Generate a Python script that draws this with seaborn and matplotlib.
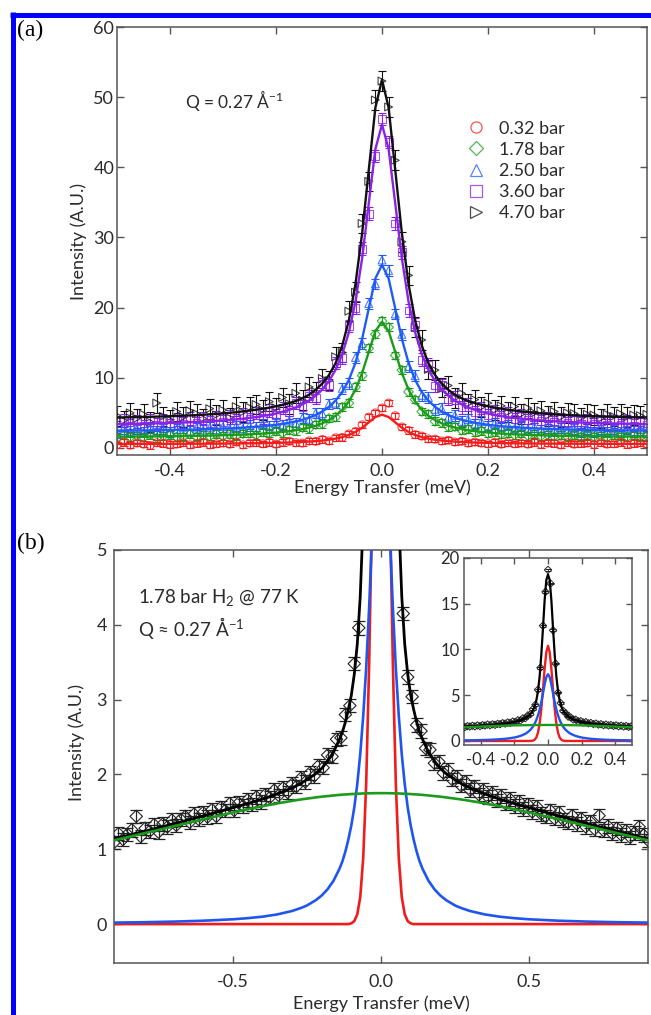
import numpy as np
import matplotlib
matplotlib.use("Agg")
import matplotlib.pyplot as plt
from matplotlib.lines import Line2D
from matplotlib.ticker import FormatStrFormatter
import seaborn as sns

# ---------------- panel (a): H2 QENS spectra at Q = 0.27 1/A ----------------
energy_a = np.linspace(-0.5, 0.5, 81)          # meV, 0.0125 meV bins

pressures = ["0.32 bar", "1.78 bar", "2.50 bar", "3.60 bar", "4.70 bar"]
colors = ["#f41c1c", "#1a9c1a", "#1f5cf5", "#8a22e6", "#111111"]
markers = ["o", "D", "^", "s", ">"]
err_a = [0.45, 0.55, 0.75, 0.9, 1.4]

obs_032 = [0.45, 0.80, 0.40, 0.70, 0.55, 0.35, 0.75, 0.65, 0.50, 0.55, 0.75, 0.45, 0.65, 0.80, 0.45, 0.60,
           0.70, 0.55, 0.85, 0.45, 0.70, 0.75, 0.60, 0.80, 0.55, 0.80, 0.95, 0.75, 0.70, 1.00, 0.95, 1.20,
           1.00, 1.45, 1.50, 2.00, 2.35, 3.30, 4.40, 5.00, 5.70, 6.40, 4.60, 3.00, 2.50, 1.90, 1.70, 1.30,
           1.25, 1.00, 1.10, 0.85, 0.95, 0.70, 0.85, 0.70, 0.60, 0.80, 0.55, 0.75, 0.60, 0.70, 0.55, 0.80,
           0.50, 0.70, 0.65, 0.45, 0.75, 0.55, 0.65, 0.70, 0.50, 0.75, 0.55, 0.60, 0.80, 0.50, 0.65, 0.75, 0.55]
fit_032 = [0.58, 0.58, 0.58, 0.58, 0.59, 0.59, 0.59, 0.59, 0.60, 0.60, 0.60, 0.61, 0.61, 0.61, 0.62, 0.62,
           0.63, 0.64, 0.65, 0.66, 0.67, 0.68, 0.69, 0.71, 0.73, 0.75, 0.78, 0.81, 0.86, 0.91, 0.98, 1.06,
           1.18, 1.34, 1.55, 1.86, 2.29, 2.89, 3.65, 4.41, 4.75, 4.41, 3.65, 2.89, 2.29, 1.86, 1.55, 1.34,
           1.18, 1.06, 0.98, 0.91, 0.86, 0.81, 0.78, 0.75, 0.73, 0.71, 0.69, 0.68, 0.67, 0.66, 0.65, 0.64,
           0.63, 0.62, 0.62, 0.61, 0.61, 0.61, 0.60, 0.60, 0.60, 0.59, 0.59, 0.59, 0.59, 0.58, 0.58, 0.58, 0.58]

obs_178 = [1.40, 1.85, 1.55, 1.75, 1.50, 1.90, 1.45, 1.70, 1.85, 1.55, 1.60, 1.95, 1.55, 1.80, 1.65, 2.00,
           1.70, 1.95, 1.75, 2.05, 2.15, 1.85, 2.25, 2.10, 2.40, 2.15, 2.55, 2.45, 2.90, 2.75, 3.35, 3.40,
           4.20, 4.40, 5.80, 6.40, 8.70, 10.30, 14.20, 16.20, 18.10, 17.20, 13.20, 11.10, 8.00, 6.90, 5.20,
           4.80, 3.80, 3.60, 3.00, 3.05, 2.55, 2.70, 2.30, 2.45, 2.05, 2.25, 1.95, 2.15, 1.85, 2.05, 1.75,
           2.00, 1.70, 1.90, 1.65, 1.85, 1.60, 1.80, 1.55, 1.85, 1.60, 1.75, 1.50, 1.80, 1.65, 1.55, 1.80, 1.60, 1.70]
fit_178 = [1.62, 1.62, 1.63, 1.64, 1.64, 1.65, 1.66, 1.67, 1.68, 1.69, 1.70, 1.72, 1.73, 1.75, 1.77, 1.79,
           1.82, 1.84, 1.88, 1.91, 1.95, 2.00, 2.06, 2.12, 2.20, 2.29, 2.40, 2.53, 2.70, 2.91, 3.17, 3.52,
           3.98, 4.59, 5.44, 6.63, 8.33, 10.68, 13.68, 16.66, 18.00, 16.66, 13.68, 10.68, 8.33, 6.63, 5.44,
           4.59, 3.98, 3.52, 3.17, 2.91, 2.70, 2.53, 2.40, 2.29, 2.20, 2.12, 2.06, 2.00, 1.95, 1.91, 1.88,
           1.84, 1.82, 1.79, 1.77, 1.75, 1.73, 1.72, 1.70, 1.69, 1.68, 1.67, 1.66, 1.65, 1.64, 1.64, 1.63, 1.62, 1.62]

obs_250 = [2.20, 2.80, 2.35, 2.70, 2.25, 2.90, 2.45, 2.75, 2.30, 2.65, 2.95, 2.40, 2.85, 2.55, 2.95, 2.60,
           3.05, 2.70, 3.15, 2.75, 3.20, 2.90, 3.40, 3.05, 3.55, 3.25, 3.85, 3.50, 4.30, 4.10, 5.00, 4.90,
           6.30, 6.40, 8.50, 9.20, 12.90, 14.90, 20.60, 23.40, 26.80, 25.30, 19.10, 16.20, 11.60, 10.30,
           7.50, 7.20, 5.50, 5.60, 4.40, 4.65, 3.80, 4.05, 3.40, 3.75, 3.10, 3.50, 2.90, 3.30, 2.75, 3.15,
           2.65, 3.05, 2.55, 2.95, 2.50, 2.85, 2.40, 2.80, 2.35, 2.75, 2.30, 2.80, 2.30, 2.70, 2.25, 2.75,
           2.35, 2.65, 2.30]
fit_250 = [2.47, 2.48, 2.49, 2.50, 2.50, 2.52, 2.53, 2.55, 2.56, 2.58, 2.60, 2.61, 2.64, 2.66, 2.69, 2.72,
           2.76, 2.80, 2.84, 2.90, 2.95, 3.02, 3.10, 3.20, 3.30, 3.44, 3.60, 3.79, 4.03, 4.33, 4.71, 5.21,
           5.87, 6.76, 7.98, 9.70, 12.15, 15.54, 19.87, 24.16, 26.10, 24.16, 19.87, 15.54, 12.15, 9.70,
           7.98, 6.76, 5.87, 5.21, 4.71, 4.33, 4.03, 3.79, 3.60, 3.44, 3.30, 3.20, 3.10, 3.02, 2.95, 2.90,
           2.84, 2.80, 2.76, 2.72, 2.69, 2.66, 2.64, 2.61, 2.60, 2.58, 2.56, 2.55, 2.53, 2.52, 2.50, 2.50,
           2.49, 2.48, 2.47]

obs_360 = [3.00, 3.90, 3.20, 3.80, 3.10, 4.00, 3.35, 3.95, 3.30, 4.10, 3.45, 4.20, 3.50, 4.25, 3.60, 4.35,
           3.75, 4.55, 3.95, 4.75, 4.10, 5.00, 4.30, 5.30, 4.70, 5.70, 5.10, 6.40, 5.90, 7.40, 7.10, 9.10,
           9.00, 12.10, 12.80, 17.40, 20.00, 28.40, 33.40, 41.60, 46.90, 43.60, 32.00, 27.90, 19.60, 17.60,
           12.60, 11.90, 8.90, 9.00, 7.00, 7.20, 5.80, 6.20, 5.10, 5.70, 4.70, 5.20, 4.40, 4.90, 4.10, 4.60,
           3.95, 4.40, 3.80, 4.25, 3.65, 4.10, 3.55, 4.00, 3.45, 3.95, 3.40, 3.85, 3.30, 3.80, 3.25, 3.75,
           3.20, 3.70, 3.30]
fit_360 = [3.40, 3.42, 3.44, 3.45, 3.47, 3.49, 3.52, 3.54, 3.57, 3.60, 3.63, 3.67, 3.71, 3.76, 3.81, 3.86,
           3.93, 4.00, 4.08, 4.18, 4.28, 4.40, 4.55, 4.72, 4.91, 5.16, 5.44, 5.79, 6.23, 6.77, 7.46, 8.36,
           9.55, 11.15, 13.36, 16.48, 20.89, 27.03, 34.85, 42.60, 46.10, 42.60, 34.85, 27.03, 20.89, 16.48,
           13.36, 11.15, 9.55, 8.36, 7.46, 6.77, 6.23, 5.79, 5.44, 5.16, 4.91, 4.72, 4.55, 4.40, 4.28, 4.18,
           4.08, 4.00, 3.93, 3.86, 3.81, 3.76, 3.71, 3.67, 3.63, 3.60, 3.57, 3.54, 3.52, 3.49, 3.47, 3.45,
           3.44, 3.42, 3.40]

obs_470 = [4.60, 3.90, 5.00, 4.20, 4.80, 3.70, 6.40, 4.50, 4.00, 5.20, 4.40, 5.30, 4.90, 4.20, 5.60, 4.70,
           5.40, 4.30, 5.90, 5.10, 5.80, 6.20, 5.40, 6.60, 5.70, 7.20, 6.30, 7.80, 6.80, 8.70, 8.00, 9.90,
           9.60, 13.00, 13.60, 19.50, 22.20, 32.00, 38.00, 49.60, 52.30, 48.60, 41.00, 29.40, 24.60, 17.20,
           15.40, 11.20, 11.10, 8.60, 8.90, 7.10, 7.80, 6.30, 6.90, 5.80, 6.40, 5.40, 6.00, 5.10, 5.90, 4.80,
           5.70, 5.00, 5.30, 4.60, 5.20, 4.40, 5.00, 4.90, 4.30, 4.80, 4.70, 4.20, 4.80, 4.50, 4.90, 4.40,
           4.70, 4.60, 4.80]
fit_470 = [4.34, 4.36, 4.38, 4.40, 4.42, 4.44, 4.47, 4.50, 4.53, 4.56, 4.60, 4.64, 4.69, 4.74, 4.80, 4.86,
           4.93, 5.01, 5.11, 5.21, 5.33, 5.45, 5.60, 5.75, 5.95, 6.15, 6.40, 6.70, 7.10, 7.60, 8.30, 9.20,
           10.40, 12.10, 14.60, 18.20, 23.40, 30.60, 39.60, 48.50, 52.50, 48.50, 39.60, 30.60, 23.40, 18.20,
           14.60, 12.10, 10.40, 9.20, 8.30, 7.60, 7.10, 6.70, 6.40, 6.15, 5.95, 5.75, 5.60, 5.45, 5.33, 5.21,
           5.11, 5.01, 4.93, 4.86, 4.80, 4.74, 4.69, 4.64, 4.60, 4.56, 4.53, 4.50, 4.47, 4.44, 4.42, 4.40,
           4.38, 4.36, 4.34]

observed_a = [obs_032, obs_178, obs_250, obs_360, obs_470]
fitted_a = [fit_032, fit_178, fit_250, fit_360, fit_470]

# ---------------- panel (b): 1.78 bar H2 at 77 K, fit components ----------------
energy_b = np.linspace(-0.9, 0.9, 121)          # meV, 0.015 meV bins
err_b = 0.09
obs_b = [1.09, 1.21, 1.13, 1.20, 1.26, 1.44, 1.17, 1.28, 1.24, 1.33, 1.23, 1.34, 1.30, 1.39, 1.32, 1.40,
         1.44, 1.36, 1.47, 1.40, 1.49, 1.43, 1.53, 1.44, 1.56, 1.52, 1.61, 1.52, 1.62, 1.58, 1.66, 1.60,
         1.70, 1.63, 1.73, 1.69, 1.79, 1.72, 1.82, 1.76, 1.87, 1.84, 1.95, 1.90, 2.02, 1.98, 2.12, 2.09,
         2.26, 2.24, 2.47, 2.49, 2.80, 2.92, 3.48, 3.96, 5.60, 8.00, 12.6, 16.3, 18.7, 17.2, 12.1, 8.45,
         5.28, 4.15, 3.30, 3.04, 2.66, 2.58, 2.35, 2.33, 2.15, 2.17, 2.02, 2.06, 1.93, 1.97, 1.85, 1.90,
         1.79, 1.84, 1.73, 1.79, 1.70, 1.75, 1.65, 1.71, 1.61, 1.67, 1.58, 1.64, 1.54, 1.60, 1.50, 1.57,
         1.47, 1.44, 1.52, 1.41, 1.49, 1.39, 1.36, 1.45, 1.34, 1.41, 1.30, 1.37, 1.27, 1.45, 1.25, 1.31,
         1.21, 1.28, 1.19, 1.25, 1.16, 1.22, 1.30, 1.19, 1.12]

energy_fit_b = [-0.9, -0.8, -0.7, -0.6, -0.5, -0.45, -0.4, -0.35, -0.3, -0.27, -0.25, -0.22, -0.2, -0.18,
                -0.16, -0.14, -0.13, -0.12, -0.11, -0.1, -0.09, -0.08, -0.07, -0.06, -0.05, -0.04, -0.03,
                -0.02, -0.01, 0.0,
                0.01, 0.02, 0.03, 0.04, 0.05, 0.06, 0.07, 0.08, 0.09, 0.1, 0.11, 0.12, 0.13, 0.14, 0.16,
                0.18, 0.2, 0.22, 0.25, 0.27, 0.3, 0.35, 0.4, 0.45, 0.5, 0.6, 0.7, 0.8, 0.9]
total_fit = [1.14, 1.237, 1.339, 1.445, 1.555, 1.61, 1.67, 1.74, 1.82, 1.88, 1.93, 2.01, 2.08, 2.18,
             2.30, 2.47, 2.57, 2.70, 2.87, 3.06, 3.34, 3.74, 4.38, 5.41, 7.0, 9.4, 12.3,
             15.4, 17.6, 18.2,
             17.6, 15.4, 12.3, 9.4, 7.0, 5.41, 4.38, 3.74, 3.34, 3.06, 2.87, 2.70, 2.57, 2.47, 2.30,
             2.18, 2.08, 2.01, 1.93, 1.88, 1.82, 1.74, 1.67, 1.61, 1.555, 1.445, 1.339, 1.237, 1.14]
elastic = [0, 0, 0, 0, 0, 0, 0, 0, 0, 0, 0, 0, 0, 0,
           0, 0, 0, 0, 0, 0.01, 0.04, 0.13, 0.36, 0.88, 1.87, 3.47, 5.61,
           7.91, 9.71, 10.4,
           9.71, 7.91, 5.61, 3.47, 1.87, 0.88, 0.36, 0.13, 0.04, 0.01, 0, 0, 0, 0, 0,
           0, 0, 0, 0, 0, 0, 0, 0, 0, 0, 0, 0, 0, 0]
narrow = [0.020, 0.025, 0.033, 0.045, 0.064, 0.079, 0.099, 0.129, 0.175, 0.215, 0.248, 0.319, 0.382, 0.466,
          0.58, 0.739, 0.84, 0.971, 1.13, 1.32, 1.56, 1.87, 2.27, 2.78, 3.42, 4.23, 5.19,
          6.18, 6.98, 7.30,
          6.98, 6.18, 5.19, 4.23, 3.42, 2.78, 2.27, 1.87, 1.56, 1.32, 1.13, 0.971, 0.84, 0.739, 0.58,
          0.466, 0.382, 0.319, 0.248, 0.215, 0.175, 0.129, 0.099, 0.079, 0.064, 0.045, 0.033, 0.025, 0.020]
broad = [1.12, 1.212, 1.306, 1.40, 1.491, 1.534, 1.575, 1.613, 1.647, 1.666, 1.677, 1.693, 1.703, 1.711,
         1.719, 1.727, 1.730, 1.733, 1.735, 1.738, 1.740, 1.742, 1.744, 1.746, 1.747, 1.748, 1.749,
         1.750, 1.750, 1.750,
         1.750, 1.750, 1.749, 1.748, 1.747, 1.746, 1.744, 1.742, 1.740, 1.738, 1.735, 1.733, 1.730, 1.727,
         1.719, 1.711, 1.703, 1.693, 1.677, 1.666, 1.647, 1.613, 1.575, 1.534, 1.491, 1.40, 1.306, 1.212, 1.12]

# ---------------- style ----------------
sns.set_theme(style="ticks")
plt.rcParams["font.family"] = ["Lato", "DejaVu Sans"]
plt.rcParams["mathtext.fontset"] = "custom"
plt.rcParams["mathtext.rm"] = "Lato"
plt.rcParams["mathtext.it"] = "Lato:italic"
plt.rcParams["mathtext.bf"] = "Lato:bold"
plt.rcParams["axes.unicode_minus"] = False
TXT = "#2b2b2b"
SPINE = "#555555"
SERIF = ["Liberation Serif", "DejaVu Serif"]

W, H = 651, 1015
fig = plt.figure(figsize=(W / 100, H / 100), dpi=100)
fig.patch.set_facecolor("white")


def frame(ax, labelsize, xpad, ypad, length=5):
    for s in ax.spines.values():
        s.set_color(SPINE)
        s.set_linewidth(1.1)
    ax.tick_params(direction="in", length=length, width=1.0, color=SPINE, top=True, right=True,
                   labelsize=labelsize, labelcolor=TXT)
    ax.tick_params(axis="x", pad=xpad)
    ax.tick_params(axis="y", pad=ypad)


# ---------------- panel (a) ----------------
ax_a = fig.add_axes([117 / W, 1 - 455 / H, 530 / W, 428 / H])
for obs, err, c in zip(observed_a[::-1], err_a[::-1], colors[::-1]):
    ax_a.errorbar(energy_a, obs, yerr=err, fmt="none", ecolor=c, elinewidth=0.8,
                  capsize=3.2, capthick=0.8, zorder=2)
for obs, c, m in zip(observed_a[::-1], colors[::-1], markers[::-1]):
    sns.scatterplot(x=energy_a, y=obs, ax=ax_a, marker=m, s=32 if m != "D" else 24,
                    facecolor="none", edgecolor=c, color=c, linewidth=0.8, alpha=0.8, zorder=3)
for fit, c in zip(fitted_a[::-1], colors[::-1]):
    sns.lineplot(x=energy_a, y=fit, ax=ax_a, color=c, linewidth=1.7, estimator=None, sort=False, zorder=4)

ax_a.set_xlim(-0.5, 0.5)
ax_a.set_ylim(-1, 60)
ax_a.set_xticks([-0.4, -0.2, 0.0, 0.2, 0.4])
ax_a.set_yticks([0, 10, 20, 30, 40, 50, 60])
ax_a.xaxis.set_major_formatter(FormatStrFormatter("%.1f"))
frame(ax_a, 13, 6, 2)
ax_a.set_xlabel("Energy Transfer (meV)", fontsize=13, color=TXT)
ax_a.set_ylabel("Intensity (A.U.)", fontsize=13, color=TXT)
ax_a.xaxis.set_label_coords(0.5, -0.058)
ax_a.yaxis.set_label_coords(-0.056, 0.5)
ax_a.text(0.128, 0.829, "Q = 0.27 Å$^{-1}$", transform=ax_a.transAxes, fontsize=12.5,
          color=TXT, va="center", ha="left")

handles = [Line2D([], [], linestyle="none", marker=m, markersize=8 if m != "D" else 7,
                  markerfacecolor="none", markeredgecolor=c, markeredgewidth=0.9, alpha=0.75)
           for m, c in zip(markers, colors)]
ax_a.legend(handles, pressures, loc="upper left", bbox_to_anchor=(0.66, 0.781), frameon=False,
            fontsize=13, labelcolor=TXT, handlelength=1.0, handletextpad=0.8,
            labelspacing=0.28, borderpad=0.0, borderaxespad=0.0)

# ---------------- panel (b) ----------------
ax_b = fig.add_axes([114 / W, 1 - 963 / H, 534 / W, 413 / H])
ax_b.errorbar(energy_b, obs_b, yerr=err_b, fmt="none", ecolor="#222222", elinewidth=0.9,
              capsize=4.2, capthick=0.9, zorder=2)
sns.scatterplot(x=energy_b, y=obs_b, ax=ax_b, marker="D", s=40, facecolor="none",
                edgecolor="#222222", color="#222222", linewidth=0.8, zorder=3)
sns.lineplot(x=energy_fit_b, y=total_fit, ax=ax_b, color="black", linewidth=2.0,
             estimator=None, sort=False, zorder=4)
for comp, c in [(elastic, "#ee1c1c"), (narrow, "#1f55ee"), (broad, "#1c9a1c")]:
    sns.lineplot(x=energy_fit_b, y=comp, ax=ax_b, color=c, linewidth=1.9,
                 estimator=None, sort=False, zorder=5)

ax_b.set_xlim(-0.9, 0.9)
ax_b.set_ylim(-0.52, 5)
ax_b.set_xticks([-0.5, 0.0, 0.5])
ax_b.set_yticks([0, 1, 2, 3, 4, 5])
ax_b.xaxis.set_major_formatter(FormatStrFormatter("%.1f"))
frame(ax_b, 13, 8, 5)
ax_b.set_xlabel("Energy Transfer (meV)", fontsize=13, color=TXT)
ax_b.set_ylabel("Intensity (A.U.)", fontsize=13, color=TXT)
ax_b.xaxis.set_label_coords(0.5, -0.079)
ax_b.yaxis.set_label_coords(-0.055, 0.535)
ax_b.text(0.045, 0.886, "1.78 bar H$_2$ @ 77 K", transform=ax_b.transAxes, fontsize=13.5,
          color=TXT, va="center", ha="left")
ax_b.text(0.045, 0.811, "Q ≈ 0.27 Å$^{-1}$", transform=ax_b.transAxes, fontsize=13.5,
          color=TXT, va="center", ha="left")

# inset: full peak of the same spectrum
ax_in = fig.add_axes([464 / W, 1 - 745 / H, 168 / W, 187 / H])
ax_in.errorbar(energy_b, obs_b, yerr=err_b, fmt="none", ecolor="#222222", elinewidth=0.7,
               capsize=2.0, capthick=0.7, zorder=2)
sns.scatterplot(x=energy_b, y=obs_b, ax=ax_in, marker="D", s=14, facecolor="none",
                edgecolor="#222222", color="#222222", linewidth=0.7, zorder=3)
sns.lineplot(x=energy_fit_b, y=total_fit, ax=ax_in, color="black", linewidth=1.6,
             estimator=None, sort=False, zorder=4)
for comp, c in [(elastic, "#ee1c1c"), (narrow, "#1f55ee"), (broad, "#1c9a1c")]:
    sns.lineplot(x=energy_fit_b, y=comp, ax=ax_in, color=c, linewidth=1.7,
                 estimator=None, sort=False, zorder=5)
ax_in.set_xlim(-0.5, 0.5)
ax_in.set_ylim(-0.44, 20)
ax_in.set_xticks([-0.4, -0.2, 0.0, 0.2, 0.4])
ax_in.set_yticks([0, 5, 10, 15, 20])
ax_in.xaxis.set_major_formatter(FormatStrFormatter("%.1f"))
frame(ax_in, 12, 5, 3, length=4)
ax_in.set_xlabel("")
ax_in.set_ylabel("")

# panel letters and blue frame
fig.text(17 / W, 1 - 30 / H, "(a)", fontsize=17, family=SERIF, color="black", va="center", ha="left")
fig.text(17 / W, 1 - 543 / H, "(b)", fontsize=17, family=SERIF, color="black", va="center", ha="left")
fig.add_artist(Line2D([10 / W, 1.0], [1 - 14.5 / H, 1 - 14.5 / H], transform=fig.transFigure,
                      color="#0000ff", linewidth=3.6, solid_capstyle="butt"))
fig.add_artist(Line2D([12.5 / W, 12.5 / W], [1 - 12 / H, 0.0], transform=fig.transFigure,
                      color="#0000ff", linewidth=3.6, solid_capstyle="butt"))

fig.savefig("out.png", dpi=100)
